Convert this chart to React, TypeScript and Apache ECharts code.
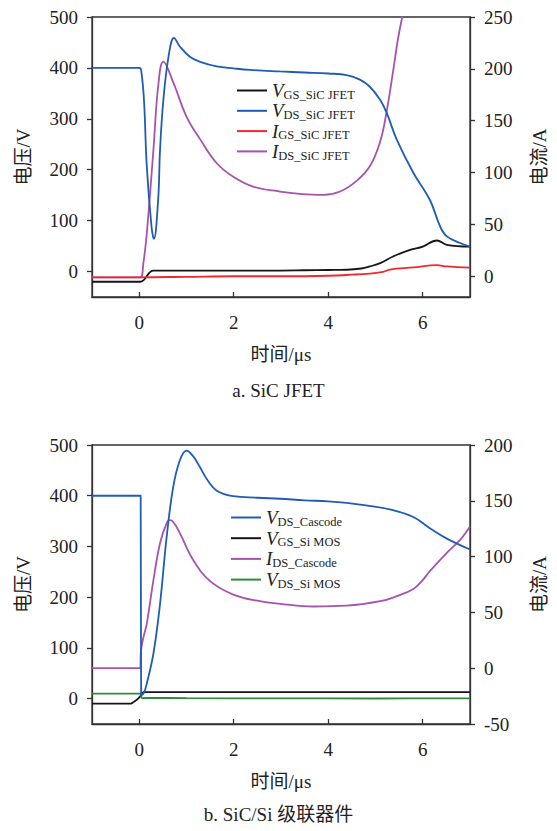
import React, { useEffect, useRef } from "react";
import * as echarts from "echarts";

// ---------- ticks ----------
const X_TICKS = [0, 2, 4, 6];
const A_LEFT_TICKS = [0, 100, 200, 300, 400, 500];
const A_RIGHT_TICKS = [0, 50, 100, 150, 200, 250];
const B_LEFT_TICKS = [0, 100, 200, 300, 400, 500];
const B_RIGHT_TICKS = [-50, 0, 50, 100, 150, 200];

// ---------- chart a: SiC JFET ----------
const aVgsT = [-1, 0.02, 0.3, 1, 2, 3, 3.5, 4.0, 4.39, 4.7, 4.88, 5.1, 5.37, 5.73, 6.0, 6.3, 6.51, 7.0];
const aVgsV = [-20, -20, 2, 2, 2, 2, 2.5, 3, 3.5, 6, 10, 16.5, 29.5, 42.6, 49, 61, 52.5, 49];

const aVdsT = [-1, 0.0, 0.04, 0.1, 0.16, 0.26, 0.31, 0.4, 0.44, 0.51, 0.62, 0.735, 0.86, 1.07, 1.29, 1.64, 2.0, 2.34, 2.98, 3.5, 4.0, 4.39, 4.67, 4.88, 5.1, 5.24, 5.45, 5.8, 6.15, 6.37, 6.51, 6.79, 7.0];
const aVdsV = [400, 400, 395, 337, 206, 88, 64, 141, 239, 337, 422, 459, 442, 422, 412, 403, 399, 396, 393, 391, 389, 386, 377, 363, 337, 311, 259, 194, 141, 88, 69, 56, 49];

const aIgsT = [-1, 0, 1, 2, 3, 4, 4.5, 4.88, 5.16, 5.3, 5.8, 6.3, 6.5, 7.0];
const aIgsV = [-1, -1, -0.5, 0, 0, 0.5, 1.5, 2.6, 4.2, 6.5, 8.5, 10.7, 9.5, 8.4];

const aIdsT = [-1, 0.02, 0.085, 0.16, 0.3, 0.4, 0.51, 0.72, 1.0, 1.29, 1.64, 1.99, 2.41, 2.98, 3.4, 3.9, 4.25, 4.6, 4.88, 5.1, 5.24, 5.38, 5.48, 5.6, 5.75];
const aIdsV = [-1, -1, 12, 41.5, 122, 183, 207, 187, 154, 132, 109, 96, 86.5, 81.7, 79.5, 78.5, 81.7, 92, 106, 130, 160, 200, 230, 258, 295];

// ---------- chart b: SiC/Si cascode ----------
const bVdsT = [-1, 0.03, 0.04, 0.1, 0.16, 0.3, 0.44, 0.58, 0.72, 0.86, 1.0, 1.14, 1.28, 1.45, 1.64, 1.99, 2.5, 2.98, 3.5, 4.0, 4.39, 4.8, 5.3, 5.8, 6.15, 6.5, 7.0];
const bVdsV = [400, 400, 6, 12, 30, 89, 187, 319, 418, 470, 489, 478, 457, 430, 410, 399, 396, 394, 391, 389, 386, 381, 373, 358, 336, 316, 294];

const bVgsT = [-1, -0.2, -0.12, -0.05, 0.02, 0.09, 7.0];
const bVgsV = [-10, -10, -6.7, -2, 4.5, 13, 13];

const bIdsT = [-1, 0.02, 0.035, 0.09, 0.16, 0.3, 0.44, 0.58, 0.65, 0.72, 0.86, 1.14, 1.5, 1.99, 2.55, 2.98, 3.69, 4.39, 5.1, 5.45, 5.8, 6.0, 6.15, 6.5, 6.79, 7.0];
const bIdsV = [0, 0, 15, 28, 40, 79, 112, 130, 132.6, 131, 121, 97, 78, 66, 60, 57.7, 55.3, 56, 60, 64.5, 71, 79, 87, 103, 115, 127];

const bVdsSiT = [-1, 0.02, 0.06, 0.3, 1, 3, 5, 7];
const bVdsSiV = [10, 10, 1, 1.5, 1, 0.5, 0.3, 0.5];

const pairs = (t: number[], v: number[]) => t.map((x, i) => [x, v[i]]);

const SERIF = "'Liberation Serif', 'Times New Roman', 'Noto Sans CJK SC', serif";
const TXT = "#222";
const AXC = "#333";

const C_BLACK = "#151515";
const C_BLUE = "#1f5db4";
const C_RED = "#ee2a2e";
const C_PURPLE = "#a653ae";
const C_GREEN = "#2c8a3c";

function xAxisCfg(gridIndex: number) {
  return {
    type: "value",
    gridIndex,
    min: -1,
    max: 7,
    name: "时间/μs",
    nameLocation: "middle",
    nameGap: 48,
    nameTextStyle: { fontFamily: SERIF, fontSize: 19, color: TXT },
    axisLine: { show: true, onZero: false, lineStyle: { color: AXC, width: 1.3 } },
    axisTick: { show: true, inside: true, length: 5, customValues: X_TICKS, lineStyle: { color: AXC, width: 1.3 } },
    axisLabel: { show: true, customValues: X_TICKS, margin: 16, fontFamily: SERIF, fontSize: 19, color: TXT },
    splitLine: { show: false },
  };
}

function yAxisCfg(gridIndex: number, pos: "left" | "right", min: number, max: number, ticks: number[], name: string, gap: number) {
  return {
    type: "value",
    gridIndex,
    position: pos,
    min,
    max,
    name,
    nameLocation: "middle",
    nameRotate: 90,
    nameGap: gap,
    nameTextStyle: { fontFamily: SERIF, fontSize: 19, color: TXT },
    axisLine: { show: true, onZero: false, lineStyle: { color: AXC, width: 1.3 } },
    axisTick: { show: true, inside: false, length: 5, customValues: ticks, lineStyle: { color: AXC, width: 1.3 } },
    axisLabel: { show: true, customValues: ticks, margin: 14, fontFamily: SERIF, fontSize: 19, color: TXT },
    splitLine: { show: false },
  };
}

function lineSeries(name: string, xi: number, yi: number, data: number[][], color: string, z: number) {
  return {
    type: "line",
    name,
    xAxisIndex: xi,
    yAxisIndex: yi,
    data,
    showSymbol: false,
    symbol: "none",
    smooth: 0.4,
    clip: true,
    z,
    lineStyle: { color, width: 1.8 },
    itemStyle: { color },
  };
}

const legendRich = {
  i: { fontFamily: SERIF, fontStyle: "italic", fontSize: 19, lineHeight: 21, color: TXT },
  s: { fontFamily: SERIF, fontSize: 12.5, lineHeight: 9, verticalAlign: "bottom", color: TXT },
};

function legendCfg(names: string[], left: number, top: number, gap: number) {
  return {
    data: names,
    orient: "vertical",
    left,
    top,
    itemGap: gap,
    itemWidth: 30,
    itemHeight: 2,
    icon: "rect",
    padding: 0,
    selectedMode: false,
    formatter: (n: string) => `{i|${n[0]}}{s|${n.slice(1)}}`,
    textStyle: { rich: legendRich, color: TXT },
  };
}

export default function App() {
  const ref = useRef<HTMLDivElement>(null);
  useEffect(() => {
    if (!ref.current) return;
    const chart = echarts.init(ref.current, undefined, { renderer: "svg" });
    const gridStyle = { show: true, borderColor: AXC, borderWidth: 1.3, backgroundColor: "transparent", containLabel: false };
    chart.setOption({
      animation: false,
      backgroundColor: "#ffffff",
      grid: [
        { ...gridStyle, left: 92, top: 17, width: 378, height: 280 },
        { ...gridStyle, left: 92, top: 445, width: 378, height: 279 },
      ],
      xAxis: [xAxisCfg(0), xAxisCfg(1)],
      yAxis: [
        yAxisCfg(0, "left", -50, 500, A_LEFT_TICKS, "电压/V", 59),
        yAxisCfg(0, "right", -20, 250, A_RIGHT_TICKS, "电流/A", 60),
        yAxisCfg(1, "left", -50, 500, B_LEFT_TICKS, "电压/V", 59),
        yAxisCfg(1, "right", -50, 200, B_RIGHT_TICKS, "电流/A", 60),
      ],
      legend: [
        legendCfg(["VGS_SiC JFET", "VDS_SiC JFET", "IGS_SiC JFET", "IDS_SiC JFET"], 237, 81, 0.3),
        legendCfg(["VDS_Cascode", "VGS_Si MOS", "IDS_Cascode", "VDS_Si MOS"], 231, 508, 0.7),
      ],
      graphic: [
        { type: "text", left: "center", top: 381, style: { text: "a. SiC JFET", fontFamily: SERIF, fontSize: 19, fill: TXT } },
        { type: "text", left: "center", top: 805, style: { text: "b. SiC/Si 级联器件", fontFamily: SERIF, fontSize: 19, fill: TXT } },
      ],
      series: [
        lineSeries("VGS_SiC JFET", 0, 0, pairs(aVgsT, aVgsV), C_BLACK, 3),
        lineSeries("VDS_SiC JFET", 0, 0, pairs(aVdsT, aVdsV), C_BLUE, 4),
        lineSeries("IGS_SiC JFET", 0, 1, pairs(aIgsT, aIgsV), C_RED, 5),
        lineSeries("IDS_SiC JFET", 0, 1, pairs(aIdsT, aIdsV), C_PURPLE, 2),
        lineSeries("VDS_Cascode", 1, 2, pairs(bVdsT, bVdsV), C_BLUE, 4),
        lineSeries("VGS_Si MOS", 1, 2, pairs(bVgsT, bVgsV), C_BLACK, 3),
        lineSeries("IDS_Cascode", 1, 3, pairs(bIdsT, bIdsV), C_PURPLE, 2),
        lineSeries("VDS_Si MOS", 1, 2, pairs(bVdsSiT, bVdsSiV), C_GREEN, 3),
      ],
    });
    return () => chart.dispose();
  }, []);
  return (
    <div
      ref={ref}
      style={{ position: "absolute", left: 0, top: 0, width: 557, height: 831, background: "#fff" }}
    />
  );
}
